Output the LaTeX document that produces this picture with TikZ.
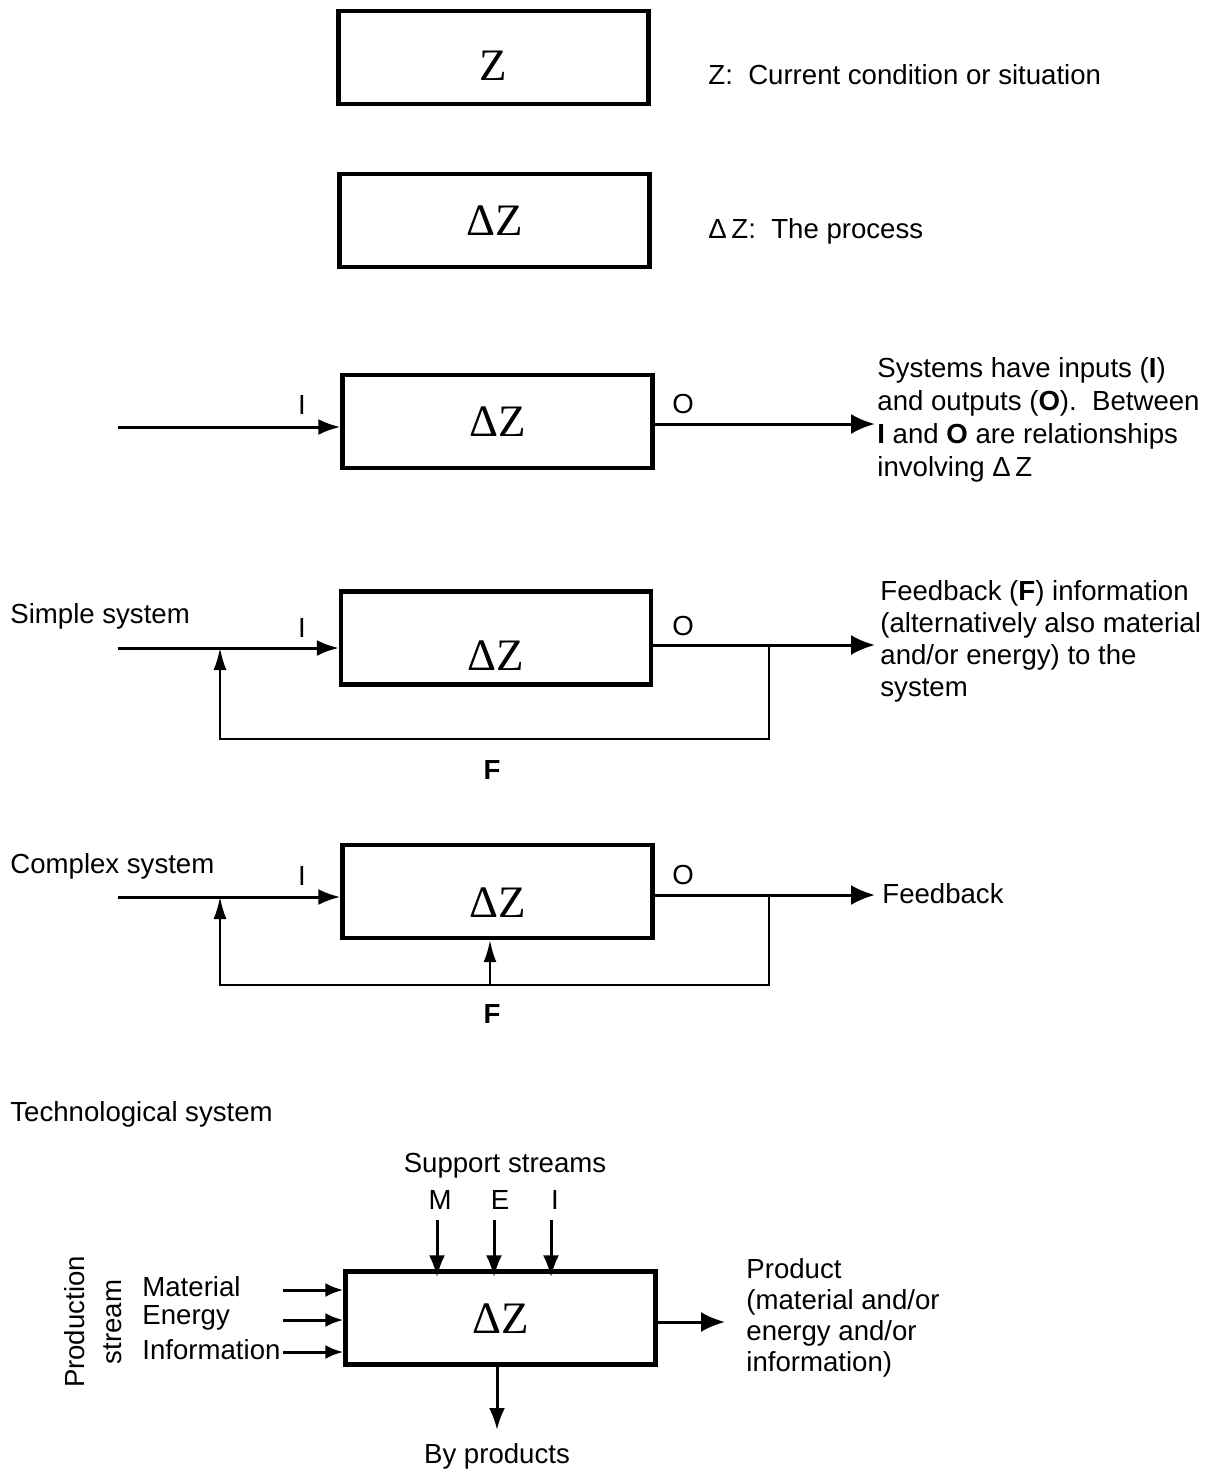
\documentclass[tikz,border=0pt]{standalone}
\usepackage{fontspec}
\setmainfont{Liberation Sans}
\newfontfamily\serifZ{Liberation Serif}
\usetikzlibrary{arrows.meta}
\begin{document}
\begin{tikzpicture}[x=0.5pt,y=-0.5pt,
  box/.style={draw, line width=2.2pt, minimum width=155pt, minimum height=46.5pt, inner sep=0pt,
    text height=15pt, text depth=0pt, font=\serifZ\fontsize{22.5}{22.5}\selectfont},
  txt/.style={font=\fontsize{13.8}{16}\selectfont, inner sep=0pt, align=left},
  lab/.style={font=\fontsize{13.8}{15}\selectfont, inner sep=0pt},
  conn/.style={line width=1.5pt, -{Latex[length=11pt,width=8pt]}},
  small/.style={line width=1.5pt, -{Latex[length=9pt,width=7pt]}},
  bigarr/.style={line width=1.5pt, -{Latex[length=12pt,width=10pt]}},
  fb/.style={line width=1.1pt, -{Latex[length=11pt,width=6.5pt]}}]
\useasboundingbox (0,0) rectangle (1216,1474);

% --- Z
\node[box, text height=23pt] (b1) at (493.5,57.5) {Z};
\node[txt, anchor=west] (t1) at (708,75) {Z:\ \ Current condition or situation};

% --- Delta Z
\node[box] (b2) at (494.5,220.5) {ΔZ};
\node[txt, anchor=west] (t2) at (708,231) {Δ\,Z:\ \ The process};

% --- system with I/O
\node[box] (b3) at (497.5,421.5) {ΔZ};
\coordinate (in3) at (118,427);
\draw[conn] (in3) -- (in3 -| b3.west);
\node[lab] (i3) at (302,405) {I};
\node[lab] (o3) at (683,404) {O};
\coordinate (out3) at (875,424);
\draw[bigarr] (b3.east |- out3) -- (out3);
\node[txt, anchor=west, font=\fontsize{13.8}{16.5}\selectfont] (t3) at (877,420)
  {Systems have inputs (\textbf{I})\\and outputs (\textbf{O}).\ \ Between\\\textbf{I} and \textbf{O} are relationships\\involving Δ\,Z};

% --- simple system
\node[txt, anchor=west] (s4) at (10,616) {Simple system};
\node[box, text height=32pt] (b4) at (496,638) {ΔZ};
\coordinate (in4) at (118,648);
\draw[conn] (in4) -- (in4 -| b4.west);
\node[lab] (i4) at (302,628) {I};
\node[lab] (o4) at (683,626) {O};
\coordinate (out4) at (875,645);
\draw[bigarr] (b4.east |- out4) -- (out4);
\coordinate (j4) at (769,645);
\coordinate (m4) at (220,648);
\draw[fb] (j4) -- ++(0,94) -| (m4);
\node[lab, font=\bfseries\fontsize{13.8}{15}\selectfont] (f4) at (492,770) {F};
\node[txt, anchor=west] (t4) at (880,641)
  {Feedback (\textbf{F}) information\\(alternatively also material\\and/or energy) to the\\system};

% --- complex system
\node[txt, anchor=west] (s5) at (10,866) {Complex system};
\node[box, text height=26pt] (b5) at (497.5,891.5) {ΔZ};
\coordinate (in5) at (118,897);
\draw[conn] (in5) -- (in5 -| b5.west);
\node[lab] (i5) at (302,876) {I};
\node[lab] (o5) at (683,875) {O};
\coordinate (out5) at (875,895);
\draw[bigarr] (b5.east |- out5) -- (out5);
\node[txt, anchor=west] (t5) at (882,894) {Feedback};
\coordinate (j5) at (769,895);
\coordinate (m5) at (220,897);
\draw[fb] (j5) -- ++(0,90) -| (m5);
\coordinate (f5c) at (490,985);
\draw[fb] (f5c) -- (f5c |- b5.south);
\node[lab, font=\bfseries\fontsize{13.8}{15}\selectfont] (f5) at (492,1014) {F};

% --- technological system
\node[txt, anchor=west] (s6) at (10,1114) {Technological system};
\node[box] (b6) at (500.5,1318) {ΔZ};
\node[lab] (ss) at (505,1166) {Support streams};
\node[lab] (sM) at (440,1200) {M};
\node[lab] (sE) at (500,1200) {E};
\node[lab] (sI) at (555,1200) {I};
\coordinate (aM) at (437,1220);
\coordinate (aE) at (494,1220);
\coordinate (aI) at (551,1220);
\draw[conn, shorten >=-4pt] (aM) -- (aM |- b6.north);
\draw[conn, shorten >=-4pt] (aE) -- (aE |- b6.north);
\draw[conn, shorten >=-4pt] (aI) -- (aI |- b6.north);

\node[txt, rotate=90, align=center, font=\fontsize{13.8}{18.5}\selectfont] (ps) at (93,1322) {Production\\stream};
\node[txt, anchor=west] (pm) at (142,1287) {Material};
\node[txt, anchor=west] (pe) at (142,1318) {Energy};
\node[txt, anchor=west] (pi) at (142,1350) {Information};
\coordinate (cm) at (283,1290);
\coordinate (ce) at (283,1320);
\coordinate (ci) at (283,1352);
\draw[small] (cm) -- (cm -| b6.west);
\draw[small] (ce) -- (ce -| b6.west);
\draw[small] (ci) -- (ci -| b6.west);

\coordinate (pout) at (725,1322);
\draw[bigarr] (b6.east |- pout) -- (pout);
\node[txt, anchor=west, font=\fontsize{13.8}{15.5}\selectfont] (pr) at (746,1318)
  {Product\\(material and/or\\energy and/or\\information)};

\coordinate (bp) at (497,1430);
\draw[conn] (bp |- b6.south) -- (bp);
\node[lab] (byp) at (497,1456) {By products};
\end{tikzpicture}
\end{document}
